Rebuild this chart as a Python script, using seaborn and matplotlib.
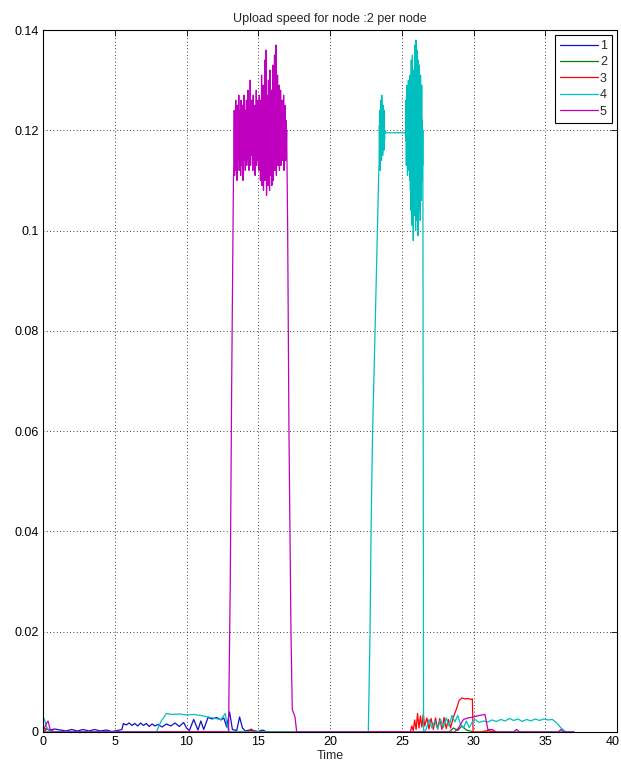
import numpy as np
import pandas as pd
import matplotlib
matplotlib.use("Agg")
import matplotlib.pyplot as plt
import matplotlib.transforms as mtransforms
import seaborn as sns
from matplotlib.ticker import FuncFormatter
from matplotlib.lines import Line2D

# ---------------- data ----------------
series_names = ["1", "2", "3", "4", "5"]
series_colors = ["#1010c8", "#008000", "#ff0000", "#00bfbf", "#bf00bf"]

# node 1 (blue)
t1 = [0.0, 0.2, 0.5, 0.8, 1.2, 1.6, 2.0, 2.4, 2.8, 3.2, 3.6, 4.0, 4.4, 4.8, 5.2, 5.5,
      5.6, 5.8, 6.0, 6.2, 6.4, 6.6, 6.8, 7.0, 7.2, 7.4, 7.6, 7.8, 8.0, 8.3, 8.6, 8.9,
      9.2, 9.5, 9.8, 10.0, 10.2, 10.5, 10.8, 11.0, 11.2, 11.5, 11.8, 12.1, 12.4, 12.6,
      12.8, 13.0, 13.2, 13.5, 13.7, 13.9, 14.1, 14.4, 15.0, 15.3, 15.6, 20.0]
v1 = [0.0008, 0.0006, 0.0004, 0.0006, 0.0004, 0.0002, 0.0005, 0.0002, 0.0005, 0.0002,
      0.0005, 0.0002, 0.0004, 0.0001, 0.0003, 0.0005,
      0.0017, 0.0014, 0.0018, 0.0013, 0.0017, 0.0012, 0.0018, 0.0013, 0.0017, 0.0011,
      0.0016, 0.0012, 0.0015, 0.0010, 0.0016, 0.0012, 0.0018, 0.0011, 0.0019, 0.0008,
      0.0003, 0.0025, 0.0004, 0.0022, 0.0005, 0.0029, 0.0026, 0.0029, 0.0024, 0.0028,
      0.0010, 0.0040, 0.0005, 0.0003, 0.0030, 0.0008, 0.0002, 0.0004, 0.0001, 0.0004,
      0.0, 0.0]

# node 2 (green)
t2 = [0.0, 28.3, 28.6, 28.9, 29.2, 29.5, 30.0, 37.0]
v2 = [0.0, 0.0, 0.0008, 0.0003, 0.0012, 0.0004, 0.0, 0.0]

# node 3 (red)
t3 = [0.0, 0.3, 0.6, 14.3, 14.5, 14.8, 25.6, 25.7, 25.8, 25.9, 26.0, 26.1, 26.2, 26.3,
      26.4, 26.5, 26.6, 26.75, 26.9, 27.05, 27.2, 27.35, 27.5, 27.65, 27.8, 27.95,
      28.1, 28.25, 28.4, 28.6, 28.8, 29.0, 29.2, 29.4, 29.6, 29.8, 29.92, 29.97,
      30.5, 31.0, 31.5]
v3 = [0.0, 0.0006, 0.0, 0.0, 0.0006, 0.0, 0.0, 0.0012, 0.0003, 0.0024, 0.0005, 0.0037,
      0.0008, 0.0032, 0.0010, 0.0036, 0.0012, 0.0028, 0.0006, 0.0027, 0.0005, 0.0028,
      0.0006, 0.0027, 0.0005, 0.0029, 0.0007, 0.0025, 0.0008, 0.0030, 0.0045, 0.0063,
      0.0068, 0.0066, 0.0067, 0.0065, 0.0066, 0.0, 0.0, 0.0003, 0.0]

# node 4 (cyan): low part, ramp, first burst, plateau, second burst, tail
t4_low = [0.0, 0.1, 0.25, 0.5, 1.0, 7.9, 8.2, 8.6, 9.0, 9.5, 10.0, 10.5, 11.0, 11.5,
          12.0, 12.4, 12.7, 12.85, 13.0, 22.67]
v4_low = [0.0030, 0.0025, 0.0010, 0.0, 0.0, 0.0, 0.0020, 0.0037, 0.0035, 0.0036,
          0.0034, 0.0035, 0.0033, 0.0030, 0.0027, 0.0025, 0.0037, 0.0010, 0.0, 0.0]
t4_ramp = [22.79, 22.86, 22.97, 23.14, 23.30, 23.40]
v4_ramp = [0.020, 0.040, 0.060, 0.080, 0.100, 0.112]
v4_burst1 = [0.113, 0.121, 0.116, 0.124, 0.112, 0.126, 0.118, 0.122, 0.114, 0.127,
             0.117, 0.123, 0.115, 0.125, 0.119, 0.121, 0.116, 0.124, 0.118, 0.120]
t4_plateau = [23.85, 25.25]
v4_plateau = [0.1195, 0.1195]
v4_burst2 = [0.118, 0.126, 0.113, 0.129, 0.116, 0.124, 0.111, 0.127, 0.115, 0.130,
             0.112, 0.123, 0.117, 0.128, 0.110,
             0.131, 0.108, 0.124, 0.104, 0.134, 0.112, 0.127, 0.101, 0.135, 0.109,
             0.121, 0.098, 0.132, 0.106, 0.126,
             0.103, 0.137, 0.110, 0.129, 0.100, 0.138, 0.107, 0.125, 0.102, 0.136,
             0.111, 0.130, 0.099, 0.134, 0.105,
             0.128, 0.104, 0.133, 0.109, 0.126, 0.102, 0.131, 0.112, 0.124, 0.106,
             0.129, 0.110, 0.122, 0.113, 0.120]
t4_tail = [26.52, 26.7, 26.9, 27.1, 27.3, 27.5, 27.7, 27.9, 28.1, 28.3, 28.5, 28.7,
           28.9, 29.1, 29.3, 29.5, 29.7, 29.9, 30.1, 30.4, 30.7, 31.0, 31.3, 31.6,
           31.9, 32.2, 32.5, 32.8, 33.1, 33.4, 33.7, 34.0, 34.3, 34.6, 34.9, 35.2,
           35.5, 35.8, 36.1, 36.4, 37.0]
v4_tail = [0.0, 0.0005, 0.0025, 0.0008, 0.0022, 0.0006, 0.0025, 0.0009, 0.0028,
           0.0012, 0.0033, 0.0020, 0.0033, 0.0015, 0.0008, 0.0022, 0.0009, 0.0019,
           0.0025, 0.0019, 0.0022, 0.0020, 0.0024, 0.0021, 0.0025, 0.0022, 0.0027,
           0.0023, 0.0026, 0.0021, 0.0025, 0.0022, 0.0026, 0.0023, 0.0026, 0.0024,
           0.0025, 0.0018, 0.0008, 0.0001, 0.0]

# node 5 (magenta): low part, ramp, burst, fall, tail
t5_low = [0.0, 0.2, 0.35, 0.5, 0.8, 12.93]
v5_low = [0.0, 0.0015, 0.0022, 0.0005, 0.0, 0.0]
t5_ramp = [13.05, 13.15, 13.27]
v5_ramp = [0.030, 0.070, 0.110]
v5_burst = [0.113, 0.124, 0.111, 0.122, 0.115, 0.126, 0.112, 0.121, 0.110, 0.125,
            0.114, 0.123, 0.116, 0.127, 0.112, 0.120, 0.115, 0.124, 0.111, 0.126,
            0.117, 0.122, 0.113, 0.125, 0.110, 0.123, 0.116, 0.127, 0.114, 0.121,
            0.112, 0.124, 0.115, 0.126, 0.113,
            0.122, 0.114, 0.128, 0.116, 0.123, 0.112, 0.125, 0.117, 0.130, 0.113,
            0.121, 0.115, 0.126, 0.118, 0.124, 0.112, 0.127, 0.116, 0.122, 0.114,
            0.125, 0.111, 0.123, 0.117, 0.128, 0.113, 0.121, 0.116, 0.126, 0.114,
            0.124, 0.112, 0.127, 0.118, 0.123,
            0.110, 0.126, 0.114, 0.131, 0.109, 0.122, 0.116, 0.129, 0.108, 0.124,
            0.113, 0.134, 0.110, 0.121, 0.115, 0.136, 0.107, 0.127, 0.112, 0.123,
            0.109, 0.130, 0.114, 0.125, 0.108, 0.132, 0.111, 0.122, 0.116, 0.128,
            0.109, 0.124, 0.113, 0.133, 0.110,
            0.127, 0.114, 0.135, 0.112, 0.123, 0.116, 0.137, 0.111, 0.126, 0.115,
            0.131, 0.113, 0.122, 0.117, 0.129, 0.112, 0.124, 0.115, 0.128, 0.113,
            0.121, 0.116, 0.126, 0.114, 0.123, 0.117, 0.127, 0.112, 0.124, 0.115,
            0.125, 0.114, 0.122, 0.116, 0.120]
t5_fall = [17.05, 17.14, 17.28, 17.37, 17.56, 17.68]
v5_fall = [0.100, 0.060, 0.020, 0.0045, 0.0030, 0.0]
t5_tail = [28.7, 29.0, 29.3, 29.6, 30.0, 30.4, 30.8, 31.0, 31.3, 31.6, 32.8, 33.0,
           33.2, 35.9, 36.1, 36.3, 37.0]
v5_tail = [0.0, 0.0010, 0.0025, 0.0028, 0.0030, 0.0033, 0.0035, 0.0005, 0.0005, 0.0,
           0.0, 0.0005, 0.0, 0.0, 0.0005, 0.0, 0.0]

x_ticks = [0, 5, 10, 15, 20, 25, 30, 35, 40]
y_ticks = [0, 0.02, 0.04, 0.06, 0.08, 0.10, 0.12, 0.14]
title = "Upload speed for node :2 per node"
x_label = "Time"

# ---------------- assemble ----------------
t4 = (t4_low + t4_ramp + list(np.linspace(23.42, 23.82, len(v4_burst1))) + t4_plateau
      + list(np.linspace(25.28, 26.47, len(v4_burst2))) + t4_tail)
v4 = v4_low + v4_ramp + v4_burst1 + v4_plateau + v4_burst2 + v4_tail
t5 = (t5_low + t5_ramp + list(np.linspace(13.30, 16.98, len(v5_burst))) + t5_fall
      + t5_tail)
v5 = v5_low + v5_ramp + v5_burst + v5_fall + v5_tail

all_t = [t1, t2, t3, t4, t5]
all_v = [v1, v2, v3, v4, v5]
frames = []
for name, tt, vv in zip(series_names, all_t, all_v):
    frames.append(pd.DataFrame({"t": tt, "v": vv, "node": name}))
df = pd.concat(frames, ignore_index=True)

# ---------------- plot ----------------
sns.set_style("white")
plt.rcParams["font.family"] = ["Liberation Sans", "DejaVu Sans"]

fig = plt.figure(figsize=(6.21, 7.65), dpi=100)
ax = fig.add_axes([43 / 621, 1 - 732 / 765, (617 - 43) / 621, (732 - 30) / 765])

sns.lineplot(data=df, x="t", y="v", hue="node", hue_order=series_names,
             palette=dict(zip(series_names, series_colors)), estimator=None,
             sort=False, units="node", linewidth=0.9, ax=ax, legend=False)

ax.set_xlim(0, 40)
ax.set_ylim(0, 0.14)
ax.set_xticks(x_ticks)
ax.set_yticks(y_ticks)
ax.yaxis.set_major_formatter(FuncFormatter(lambda v, p: "%g" % round(v, 4)))
ax.grid(True, color="black", linestyle=(0, (1, 3)), linewidth=0.6)
ax.tick_params(direction="in", length=4, width=0.6, top=True, right=True,
               labelsize=9, colors="black", pad=3)
for s in ax.spines.values():
    s.set_visible(True)
    s.set_color("black")
    s.set_linewidth(0.8)

# keep the last x tick label inside the canvas
last_lbl = ax.get_xticklabels()[-1]
last_lbl.set_transform(last_lbl.get_transform() +
                       mtransforms.ScaledTranslation(-4 / 100, 0, fig.dpi_scale_trans))

ax.set_title(title, fontsize=9, pad=6)
ax.set_xlabel(x_label, fontsize=9, labelpad=1)
ax.set_ylabel("")

handles = [Line2D([], [], color=c, linewidth=0.9) for c in series_colors]
leg = ax.legend(handles, series_names, loc="upper right", fontsize=9,
                handlelength=3.0, handletextpad=0.2, labelspacing=0.35,
                borderaxespad=0.4, borderpad=0.4, fancybox=False,
                edgecolor="black", framealpha=1)
leg.get_frame().set_linewidth(0.8)

fig.savefig("out.png", dpi=100)
